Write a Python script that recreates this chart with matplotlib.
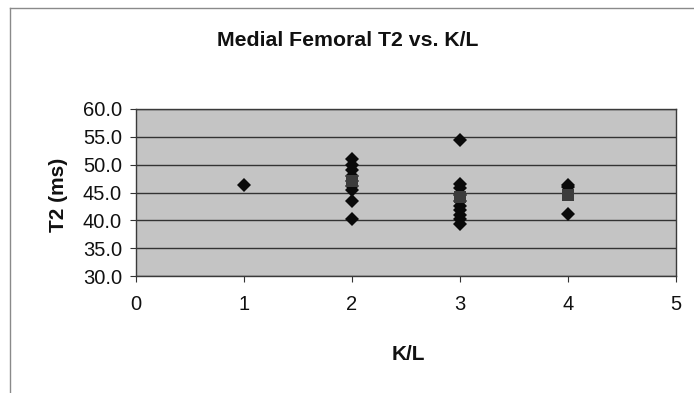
import matplotlib
matplotlib.use("Agg")
import matplotlib.pyplot as plt
from matplotlib.lines import Line2D

# Individual T2 measurements grouped by Kellgren-Lawrence grade
kl_grade = [1,
            2, 2, 2, 2, 2, 2, 2, 2, 2,
            3, 3, 3, 3, 3, 3, 3, 3, 3, 3,
            4, 4, 4]
t2_ms = [46.3,
         51.0, 50.0, 49.0, 48.0, 47.0, 46.2, 45.5, 43.5, 40.2,
         54.4, 46.5, 45.8, 44.5, 43.5, 42.5, 41.8, 41.0, 40.3, 39.3,
         46.4, 46.0, 41.1]

# Group means
mean_grade = [2, 3, 4]
mean_t2 = [47.1, 44.2, 44.6]

x_ticks = [0, 1, 2, 3, 4, 5]
y_ticks = [30, 35, 40, 45, 50, 55, 60]

plt.rcParams['font.family'] = ['Liberation Sans', 'DejaVu Sans']

fig = plt.figure(figsize=(6.94, 3.93), dpi=100)
fig.patch.set_facecolor('white')
ax = fig.add_axes([136 / 694, 1 - 276 / 393, 540 / 694, 167 / 393])
ax.set_facecolor('#c4c4c4')

ax.set_xlim(0, 5)
ax.set_ylim(30, 60)
ax.set_xticks(x_ticks)
ax.set_yticks(y_ticks)
ax.set_xticklabels([str(v) for v in x_ticks], fontsize=14.5, color='#111111')
ax.set_yticklabels([f"{v:.1f}" for v in y_ticks], fontsize=14.5, color='#111111')
ax.tick_params(axis='both', direction='out', length=4, width=0.8,
               color='#333333')
ax.tick_params(axis='x', pad=10)
ax.tick_params(axis='y', pad=6)

ax.yaxis.grid(True, color='#333333', linewidth=1.0)
ax.set_axisbelow(True)
for side in ['left', 'right', 'top', 'bottom']:
    ax.spines[side].set_color('#3a3a3a')
    ax.spines[side].set_linewidth(1.0)

ax.plot(kl_grade, t2_ms, linestyle='none', marker='D', markersize=7.4,
        color='#0a0a0a', markeredgewidth=0, zorder=3)
ax.plot(mean_grade, mean_t2, linestyle='none', marker='s', markersize=8,
        color='#3c3c3c', markeredgewidth=0, zorder=4)

fig.text(348 / 694, 1 - 40 / 393, 'Medial Femoral T2 vs. K/L', ha='center',
         va='center', fontsize=15.3, fontweight='bold', color='#111111')
fig.text(408 / 694, 1 - 355 / 393, 'K/L', ha='center', va='center',
         fontsize=15, fontweight='bold', color='#111111')
fig.text(58 / 694, 1 - 195 / 393, 'T2 (ms)', ha='center', va='center',
         rotation=90, fontsize=15, fontweight='bold', color='#111111')

# Chart border (top and left edges)
fig.add_artist(Line2D([10 / 694, 10 / 694], [1 - 8 / 393, 0.0],
                      transform=fig.transFigure, color='#8a8a8a', linewidth=1.0))
fig.add_artist(Line2D([10 / 694, 1.0], [1 - 8 / 393, 1 - 8 / 393],
                      transform=fig.transFigure, color='#8a8a8a', linewidth=1.0))

fig.savefig('out.png', dpi=100, facecolor='white')
